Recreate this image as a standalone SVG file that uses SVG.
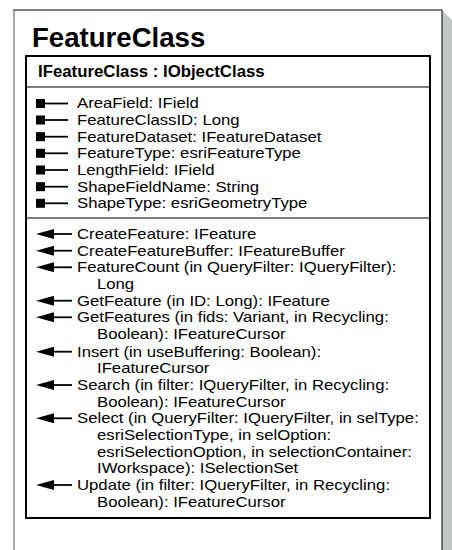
<svg xmlns="http://www.w3.org/2000/svg" width="452" height="550" viewBox="0 0 452 550">
<defs>
<style>
.t{font-family:"Liberation Sans",Arial,sans-serif;font-size:14.8px;fill:#000}
.h{font-family:"Liberation Sans",Arial,sans-serif;font-weight:bold;fill:#000}
.ln{stroke:#000;stroke-width:1.8}
</style>
<rect id="sq" x="0" y="-4.5" width="9" height="9" fill="#000"/>
<g id="attr"><use href="#sq" x="36"/><line x1="45" y1="0" x2="68" y2="0" class="ln"/></g>
<g id="meth"><polygon points="36,0 54,-5 54,5" fill="#000"/><line x1="52" y1="0" x2="72" y2="0" class="ln"/></g>
</defs>
<rect width="452" height="550" fill="#fff"/>
<g id="card">
<polygon points="442,10 452,20 452,550 442,550" fill="#c2c6c6"/>
<rect x="14" y="10" width="428" height="545" fill="#fff"/>
<line x1="14" y1="10" x2="14" y2="550" stroke="#8c8c8c" stroke-width="1.5"/>
<line x1="13.5" y1="10" x2="442" y2="10" stroke="#000" stroke-width="1.2"/>
<line x1="442" y1="10" x2="442" y2="550" stroke="#222" stroke-width="1.2"/>
<text x="32" y="47" class="h" font-size="27.6">FeatureClass</text>
</g>
<g id="interface">
<rect x="26" y="56" width="404" height="462" fill="#fff" stroke="#000" stroke-width="2"/>
<line x1="26" y1="87" x2="430" y2="87" stroke="#000" stroke-width="1.2"/>
<line x1="26" y1="218" x2="430" y2="218" stroke="#000" stroke-width="1.2"/>
<text x="38" y="77" class="h" font-size="16.8">IFeatureClass : IObjectClass</text>
</g>
<g id="connectors">
<use href="#attr" y="103.5"/>
<use href="#attr" y="120"/>
<use href="#attr" y="136.7"/>
<use href="#attr" y="153.3"/>
<use href="#attr" y="170"/>
<use href="#attr" y="186.7"/>
<use href="#attr" y="203.3"/>
<use href="#meth" y="234"/>
<use href="#meth" y="250.7"/>
<use href="#meth" y="267.3"/>
<use href="#meth" y="300.7"/>
<use href="#meth" y="317.3"/>
<use href="#meth" y="351.7"/>
<use href="#meth" y="385"/>
<use href="#meth" y="418.3"/>
<use href="#meth" y="485"/>
</g>
<g id="attributes" class="t" transform="scale(1.13,1)">
<text x="68.14" y="108.5">AreaField: IField</text>
<text x="68.14" y="125">FeatureClassID: Long</text>
<text x="68.14" y="141.7">FeatureDataset: IFeatureDataset</text>
<text x="68.14" y="158.3">FeatureType: esriFeatureType</text>
<text x="68.14" y="175">LengthField: IField</text>
<text x="68.14" y="191.7">ShapeFieldName: String</text>
<text x="68.14" y="208.3">ShapeType: esriGeometryType</text>
</g>
<g id="methods" class="t" transform="scale(1.13,1)">
<text x="68.14" y="239">CreateFeature: IFeature</text>
<text x="68.14" y="255.7">CreateFeatureBuffer: IFeatureBuffer</text>
<text x="68.14" y="272.3">FeatureCount (in QueryFilter: IQueryFilter):</text>
<text x="85.84" y="289">Long</text>
<text x="68.14" y="305.7">GetFeature (in ID: Long): IFeature</text>
<text x="68.14" y="322.3">GetFeatures (in fids: Variant, in Recycling:</text>
<text x="85.84" y="339">Boolean): IFeatureCursor</text>
<text x="68.14" y="356.7">Insert (in useBuffering: Boolean):</text>
<text x="85.84" y="373.3">IFeatureCursor</text>
<text x="68.14" y="390">Search (in filter: IQueryFilter, in Recycling:</text>
<text x="85.84" y="406.7">Boolean): IFeatureCursor</text>
<text x="68.14" y="423.3">Select (in QueryFilter: IQueryFilter, in selType:</text>
<text x="85.84" y="440">esriSelectionType, in selOption:</text>
<text x="85.84" y="456.7">esriSelectionOption, in selectionContainer:</text>
<text x="85.84" y="473.3">IWorkspace): ISelectionSet</text>
<text x="68.14" y="490">Update (in filter: IQueryFilter, in Recycling:</text>
<text x="85.84" y="506.7">Boolean): IFeatureCursor</text>
</g>
</svg>
